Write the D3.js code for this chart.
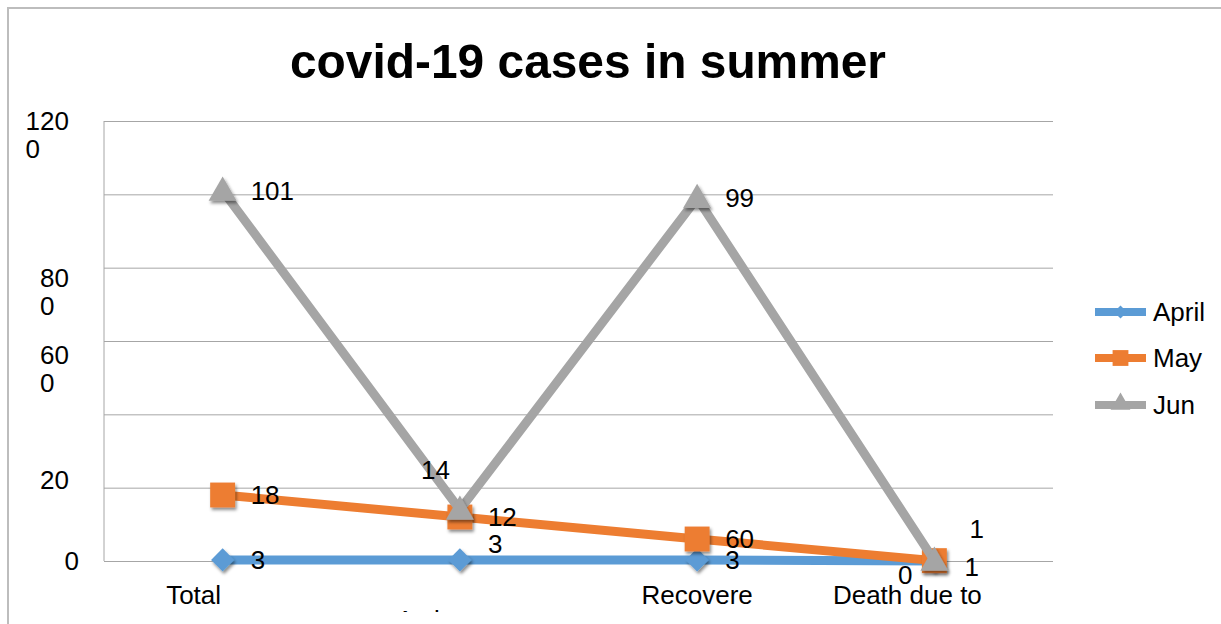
<!DOCTYPE html>
<html>
<head>
<meta charset="utf-8">
<script src="https://cdn.jsdelivr.net/npm/d3@7"></script>
<style>
  html, body { margin: 0; padding: 0; background: #fff; }
  svg { display: block; font-family: "Liberation Sans", Arial, sans-serif; }
</style>
</head>
<body>
<svg id="chart" width="1221" height="624"></svg>
<script>
// ---- data ----
const categories = ["Total", "Active", "Recovered", "Death due to"];
const categoryLabels = ["Total", "Active", "Recovere", "Death due to"];
const seriesNames = ["April", "May", "Jun"];
const aprilValues = [3, 3, 3, 0];
const mayValues = [180, 120, 60, 1];
const junValues = [1010, 140, 990, 1];
const yTicks = [0, 200, 400, 600, 800, 1000, 1200];
const yTickLabels = ["0", "20", "", "60\n0", "80\n0", "", "120\n0"];

const colors = { April: "#5b9bd5", May: "#ed7d31", Jun: "#a5a5a5" };
const shapes = { April: d3.symbolDiamond2, May: d3.symbolSquare, Jun: d3.symbolTriangle };
const series = [
  { name: "April", values: aprilValues },
  { name: "May", values: mayValues },
  { name: "Jun", values: junValues }
];

// ---- layout ----
const plot = { left: 104, right: 1053, top: 121, bottom: 561 };
const svg = d3.select("#chart");

const defs = svg.append("defs");
const shadow = defs.append("filter").attr("id", "shadow")
  .attr("x", "-50%").attr("y", "-50%").attr("width", "200%").attr("height", "200%");
shadow.append("feDropShadow").attr("dx", 1.5).attr("dy", 2.5)
  .attr("stdDeviation", 1.8).attr("flood-color", "#000").attr("flood-opacity", 0.45);
// the chart body stops just above the second row of category labels
defs.append("clipPath").attr("id", "bodyClip")
  .append("rect").attr("x", 0).attr("y", 0).attr("width", 1221).attr("height", 612);

const x = d3.scalePoint().domain(categories).range([plot.left, plot.right]).padding(0.5);
const y = d3.scaleLinear().domain([0, 1200]).range([plot.bottom, plot.top]);

// chart frame
svg.append("rect").attr("x", 8).attr("y", 8).attr("width", 1400).attr("height", 800)
  .attr("fill", "#fff").attr("stroke", "#bdbdbd").attr("stroke-width", 2);

// title
svg.append("text")
  .attr("x", 588).attr("y", 78)
  .attr("text-anchor", "middle")
  .attr("font-size", 49).attr("font-weight", "bold")
  .attr("textLength", 596).attr("lengthAdjust", "spacingAndGlyphs")
  .attr("fill", "#000")
  .text("covid-19 cases in summer");

// gridlines
const grid = d3.axisLeft(y).tickValues(yTicks).tickSize(-(plot.right - plot.left)).tickFormat("");
const gridG = svg.append("g").attr("transform", `translate(${plot.left},0)`).call(grid);
gridG.select(".domain").remove();
gridG.selectAll(".tick line").attr("stroke", "#a6a6a6").attr("stroke-width", 1);

// vertical axis line
svg.append("line")
  .attr("x1", plot.left).attr("x2", plot.left)
  .attr("y1", y(1200)).attr("y2", y(0))
  .attr("stroke", "#a6a6a6").attr("stroke-width", 1);

// y tick labels (narrow label box wraps the trailing digit onto a second line)
const yShift = { 0: 0, 200: -8, 600: 14, 800: 10, 1200: 0 };
const yLab = svg.append("g").attr("font-size", 26).attr("fill", "#000");
yTicks.forEach((t, i) => {
  const lines = yTickLabels[i] ? yTickLabels[i].split("\n") : [];
  if (!lines.length) return;
  const right = lines[0].length > 1 ? 69 : 79;
  const txt = yLab.append("text").attr("y", y(t) + (yShift[t] || 0));
  lines.forEach((ln, j) => {
    txt.append("tspan")
      .attr("x", j === 0 ? right : right - lines[0].length * 14.46)
      .attr("text-anchor", j === 0 ? "end" : "start")
      .attr("dy", j === 0 ? "0.36em" : "1.08em")
      .text(ln);
  });
});

// x category labels (the second, staggered row is cut by the chart body)
const catOffsets = { "Total": [-29, 604], "Active": [-28, 629], "Recovered": [0, 604], "Death due to": [-27, 604] };
const xLab = svg.append("g").attr("font-size", 26).attr("fill", "#000")
  .attr("text-anchor", "middle").attr("clip-path", "url(#bodyClip)");
categories.forEach((c, i) => {
  const [dx, yy] = catOffsets[c];
  xLab.append("text").attr("x", x(c) + dx).attr("y", yy).text(categoryLabels[i]);
});

// series lines and markers
const line = d3.line().x((d, i) => x(categories[i])).y(d => y(d));
const sym = d3.symbol();
const markerSize = { April: 340, May: 620, Jun: 340 };
series.forEach(s => {
  const g = svg.append("g");
  g.append("path")
    .attr("d", line(s.values))
    .attr("fill", "none")
    .attr("stroke", colors[s.name])
    .attr("stroke-width", 9)
    .attr("stroke-linejoin", "miter");
  g.selectAll("path.marker").data(s.values).join("path")
    .attr("class", "marker")
    .attr("d", sym.type(shapes[s.name]).size(markerSize[s.name])())
    .attr("transform", (d, i) => `translate(${x(categories[i])},${y(d) + (s.name === "Jun" ? 2 : 0)})`)
    .attr("fill", colors[s.name])
    .attr("filter", "url(#shadow)");
});

// data labels: wide numbers wrap, only the leading line fits the label box
function labelText(v) {
  const s = String(v);
  return s.length > 2 ? s.slice(0, -1) : s;
}
const placement = {
  "April|Active": { dx: 28, dy: -16, anchor: "start" },
  "April|Death due to": { dx: -22, dy: 14, anchor: "end" },
  "May|Death due to": { dx: 30, dy: 6, anchor: "start" },
  "Jun|Active": { dx: -10, dy: -40, anchor: "end" },
  "Jun|Death due to": { dx: 35, dy: -32, anchor: "start" }
};
const dl = svg.append("g").attr("font-size", 26).attr("fill", "#000");
series.forEach(s => {
  s.values.forEach((v, i) => {
    const c = categories[i];
    const p = placement[`${s.name}|${c}`] || { dx: 28, dy: 0, anchor: "start" };
    dl.append("text")
      .attr("x", x(c) + p.dx)
      .attr("y", y(v) + p.dy)
      .attr("dy", "0.36em")
      .attr("text-anchor", p.anchor)
      .text(labelText(v));
  });
});

// legend
const legend = svg.append("g").attr("transform", "translate(1095,0)");
const legendY = [312, 358, 405];
const legendSizes = { April: 110, May: 250, Jun: 170 };
seriesNames.forEach((name, i) => {
  const row = legend.append("g").attr("transform", `translate(0,${legendY[i]})`);
  row.append("line").attr("x1", 0).attr("x2", 51).attr("y1", 0).attr("y2", 0)
    .attr("stroke", colors[name]).attr("stroke-width", 8);
  row.append("path")
    .attr("d", d3.symbol().type(shapes[name]).size(legendSizes[name])())
    .attr("transform", `translate(25.5,${name === "Jun" ? -1 : 0})`)
    .attr("fill", colors[name]);
  row.append("text").attr("x", 58).attr("y", 0).attr("dy", "0.36em")
    .attr("font-size", 26).attr("fill", "#000").text(name);
});
</script>
</body>
</html>
